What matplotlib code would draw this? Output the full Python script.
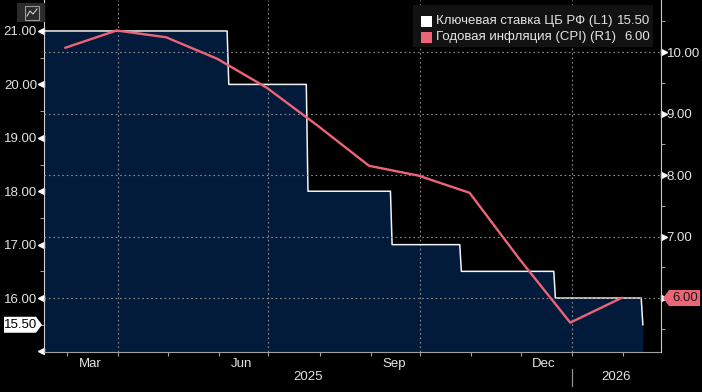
import matplotlib
matplotlib.use("Agg")
import matplotlib.pyplot as plt
import matplotlib.dates as mdates
from matplotlib.patches import Rectangle, Polygon
from matplotlib.transforms import blended_transform_factory, ScaledTranslation
import datetime as dt

plt.rcParams['font.family'] = ['Liberation Sans', 'DejaVu Sans']

# key rate of the Bank of Russia, % (left axis) - step changes
rate_dates = ["2025-02-15", "2025-06-06", "2025-06-07", "2025-07-24", "2025-07-25",
              "2025-09-13", "2025-09-14", "2025-10-25", "2025-10-26", "2025-12-21",
              "2025-12-22", "2026-02-12", "2026-02-13"]
rate_values = [21.0, 21.0, 20.0, 20.0, 18.0, 18.0, 17.0, 17.0, 16.5, 16.5, 16.0, 16.0, 15.5]

# annual CPI inflation, % (right axis)
cpi_dates = ["2025-02-28", "2025-03-31", "2025-04-30", "2025-05-31", "2025-06-30",
             "2025-07-31", "2025-08-31", "2025-09-30", "2025-10-31", "2025-11-30",
             "2025-12-31", "2026-01-31"]
cpi_values = [10.07, 10.35, 10.24, 9.89, 9.42, 8.80, 8.15, 7.99, 7.71, 6.64, 5.60, 6.00]

month_labels = ["Mar", "Jun", "Sep", "Dec"]
month_label_dates = ["2025-03-15", "2025-06-15", "2025-09-15", "2025-12-15"]
legend_names = ["Ключевая ставка ЦБ РФ (L1)", "Годовая инфляция (CPI) (R1)"]

NAVY = "#031b3b"
PINK = "#ee6477"
TXT = "#e4e4e4"
GRID = "#8c8c8c"

to_d = lambda s: dt.datetime.strptime(s, "%Y-%m-%d")
rd = [to_d(s) for s in rate_dates]
cd = [to_d(s) for s in cpi_dates]

W, H = 702, 392
fig = plt.figure(figsize=(W / 100, H / 100), dpi=100, facecolor="black")
ax = fig.add_axes([44 / W, 1 - 352 / H, (661 - 44) / W, 352 / H])
ax.set_facecolor("black")
ax2 = ax.twinx()

x0, x1 = to_d("2025-02-15"), to_d("2026-02-24")
ax.set_xlim(x0, x1)
ax.set_ylim(14.99, 21.58)
ax2.set_ylim(5.122, 10.846)

# key rate: filled step area
ax.fill_between(rd, rate_values, 14.99, color=NAVY, lw=0, zorder=1)
ax.plot(rd, rate_values, color="#f2f2f2", lw=1.1, zorder=3)

# vertical quarter grid lines
for q in ["2025-04-01", "2025-07-01", "2025-10-01", "2026-01-01"]:
    ax.axvline(to_d(q), color=GRID, lw=0.8, ls=(0, (1.5, 2.5)), zorder=2)

# inflation line
ax2.plot(cd, cpi_values, color=PINK, lw=1.7, zorder=4)
ax2.yaxis.grid(True, color=GRID, lw=0.8, ls=(0, (1.5, 2.5)))
ax2.set_axisbelow(False)

# spines
for a in (ax, ax2):
    a.spines["top"].set_visible(False)
ax.spines["left"].set_color("#d0d0d0")
ax.spines["bottom"].set_color("#a0a0a0")
ax2.spines["right"].set_color("#c8c8c8")
ax2.spines["left"].set_visible(False)
ax2.spines["bottom"].set_visible(False)

# left y axis
lt = list(range(15, 22))
ax.set_yticks(lt)
ax.set_yticklabels(["" if v == 15 else f"{v:.2f}" for v in lt])
ax.set_yticks([v + 0.5 for v in range(15, 22)], minor=True)
ax.tick_params(axis="y", which="major", length=0, pad=5, labelcolor=TXT, labelsize=9.5)
ax.tick_params(axis="y", which="minor", length=3, color="#bbbbbb", direction="out")
tl = blended_transform_factory(ax.transAxes, ax.transData) + ScaledTranslation(-2 / 72, 0, fig.dpi_scale_trans)
ax.plot([0] * len(lt), lt, ls="none", marker="<", ms=4, color="white", transform=tl, clip_on=False)

# right y axis
rt = list(range(6, 11))
ax2.set_yticks(rt)
ax2.set_yticklabels(["" if v == 6 else f"{v:.2f}" for v in rt])
ax2.set_yticks([v + 0.5 for v in range(5, 11)], minor=True)
ax2.tick_params(axis="y", which="major", length=0, pad=4, labelcolor=TXT, labelsize=9.5)
ax2.tick_params(axis="y", which="minor", length=3, color="#bbbbbb", direction="out")
tr = blended_transform_factory(ax2.transAxes, ax2.transData) + ScaledTranslation(2 / 72, 0, fig.dpi_scale_trans)
ax2.plot([1] * len(rt), rt, ls="none", marker=">", ms=4, color="white", transform=tr, clip_on=False)

# x axis: month ticks, labels mid-month
ax.xaxis.set_major_locator(mdates.MonthLocator())
ax.xaxis.set_major_formatter(plt.NullFormatter())
ax.tick_params(axis="x", which="major", length=3, color="#a0a0a0")
ax.set_xticks([to_d(s) for s in month_label_dates], minor=True)
ax.set_xticklabels(month_labels, minor=True)
ax.tick_params(axis="x", which="minor", length=0, pad=4, labelcolor=TXT, labelsize=9.5)

ny = to_d("2026-01-01")
bx = blended_transform_factory(ax.transData, ax.transAxes)
ax.text(x0 + (ny - x0) / 2, -0.071, "2025", transform=bx, ha="center", va="center", color=TXT, fontsize=9.5)
ax.text(ny + (x1 - ny) / 2, -0.071, "2026", transform=bx, ha="center", va="center", color=TXT, fontsize=9.5)
ax.plot([ny, ny], [-0.048, -0.097], transform=bx, color="#909090", lw=0.9, clip_on=False)

# value callouts
fig.canvas.draw()
inv = fig.transFigure.inverted()
def fig_y(a, v):
    return inv.transform(a.transData.transform((0, v)))[1]

yl = fig_y(ax, rate_values[-1])
hy = 8 / H
poly = [(4 / W, yl - hy), (36 / W, yl - hy), (42 / W, yl), (36 / W, yl + hy), (4 / W, yl + hy)]
fig.patches.append(Polygon(poly, closed=True, transform=fig.transFigure, facecolor="white", edgecolor="none"))
fig.text(21 / W, yl, f"{rate_values[-1]:.2f}", ha="center", va="center", color="black", fontsize=9.5)

yr = fig_y(ax2, cpi_values[-1])
poly = [(663 / W, yr), (669 / W, yr - hy), (700 / W, yr - hy), (700 / W, yr + hy), (669 / W, yr + hy)]
fig.patches.append(Polygon(poly, closed=True, transform=fig.transFigure, facecolor=PINK, edgecolor="none"))
fig.text(685 / W, yr, f"{cpi_values[-1]:.2f}", ha="center", va="center", color="#1a1a1a", fontsize=9.5)

# legend
fig.patches.append(Rectangle((413 / W, 1 - 47 / H), 240 / W, 42 / H, transform=fig.transFigure,
                             facecolor="#121212", edgecolor="none"))
legend_vals = [f"{rate_values[-1]:.2f}", f"{cpi_values[-1]:.2f}"]
for i, (name, val, col) in enumerate(zip(legend_names, legend_vals, ["white", PINK])):
    yc = 1 - (21 + 16 * i) / H
    fig.patches.append(Rectangle((421 / W, yc - 5.5 / H), 11 / W, 11 / H, transform=fig.transFigure,
                                 facecolor=col, edgecolor="none"))
    fig.text(436 / W, yc, name, ha="left", va="center", color=TXT, fontsize=9.5)
    fig.text(650 / W, yc, val, ha="right", va="center", color=TXT, fontsize=9.5)

# small chart icon top-left
fig.patches.append(Rectangle((17 / W, 1 - 22 / H), 28 / W, 19 / H, transform=fig.transFigure,
                             facecolor="#2b2b2b", edgecolor="none"))
fig.patches.append(Rectangle((25 / W, 1 - 20 / H), 14 / W, 14 / H, transform=fig.transFigure,
                             facecolor="none", edgecolor="#9a9a9a", lw=0.8))
fig.lines.append(plt.Line2D([27 / W, 30 / W, 33 / W, 37 / W], [1 - 16 / H, 1 - 11 / H, 1 - 14 / H, 1 - 9 / H],
                            transform=fig.transFigure, color="#cfcfcf", lw=0.8))

fig.savefig("out.png", dpi=100, facecolor="black")
